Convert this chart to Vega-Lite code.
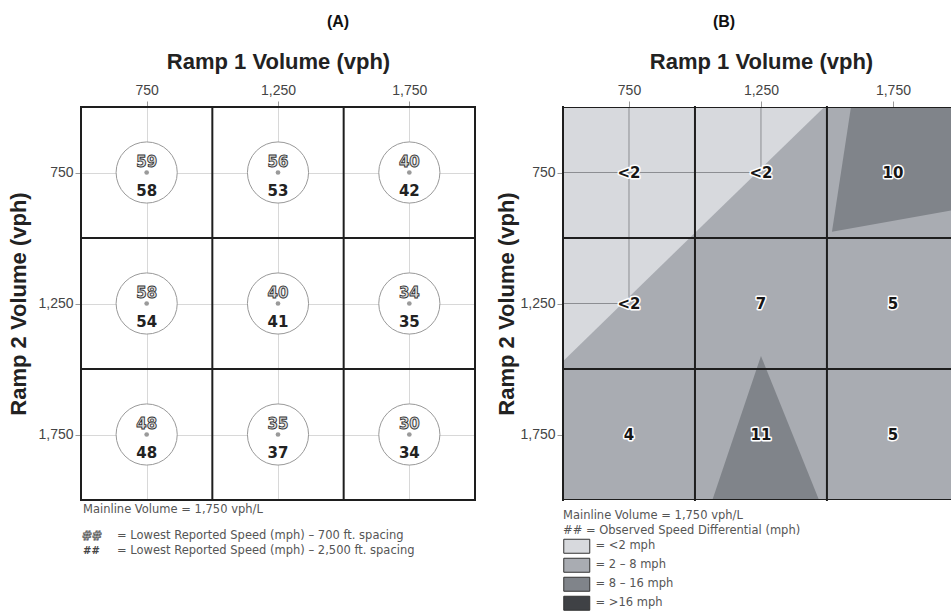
{
  "$schema": "https://vega.github.io/schema/vega-lite/v6.json",
  "padding": {"left": 7, "top": 14, "right": 0, "bottom": 0},
  "background": "white",
  "spacing": 18,
  "resolve": {"legend": {"fill": "independent"}, "scale": {"fill": "independent"}},
  "config": {
    "view": {"stroke": null},
    "axis": {
      "labelFont": "Liberation Sans", "labelFontSize": 14, "labelColor": "#444",
      "titleFont": "Liberation Sans", "titleFontSize": 22, "titleFontWeight": "bold", "titleColor": "#222",
      "tickColor": "#999", "tickSize": 6, "labelPadding": 2, "domain": false
    },
    "axisTop": {"labelPadding": 4},
    "title": {"font": "Liberation Sans", "fontSize": 16, "fontWeight": "bold", "color": "#111", "anchor": "middle", "frame": "group"}
  },
  "datasets": {
    "speeds": [
      {"r1": 750, "r2": 750, "s700": 59, "s2500": 58},
      {"r1": 1250, "r2": 750, "s700": 56, "s2500": 53},
      {"r1": 1750, "r2": 750, "s700": 40, "s2500": 42},
      {"r1": 750, "r2": 1250, "s700": 58, "s2500": 54},
      {"r1": 1250, "r2": 1250, "s700": 40, "s2500": 41},
      {"r1": 1750, "r2": 1250, "s700": 34, "s2500": 35},
      {"r1": 750, "r2": 1750, "s700": 48, "s2500": 48},
      {"r1": 1250, "r2": 1750, "s700": 35, "s2500": 37},
      {"r1": 1750, "r2": 1750, "s700": 30, "s2500": 34}
    ],
    "diffs": [
      {"r1": 750, "r2": 750, "d": "<2"},
      {"r1": 1250, "r2": 750, "d": "<2"},
      {"r1": 1750, "r2": 750, "d": "10"},
      {"r1": 750, "r2": 1250, "d": "<2"},
      {"r1": 1250, "r2": 1250, "d": "7"},
      {"r1": 1750, "r2": 1250, "d": "5"},
      {"r1": 750, "r2": 1750, "d": "4"},
      {"r1": 1250, "r2": 1750, "d": "11"},
      {"r1": 1750, "r2": 1750, "d": "5"}
    ],
    "lines": [{"v": 500}, {"v": 1000}, {"v": 1500}, {"v": 2000}]
  },
  "hconcat": [
    {
      "width": 394,
      "height": 393,
      "title": {"text": "(A)", "dx": 60, "offset": 20},
      "layer": [
        {
          "data": {"name": "speeds"},
          "mark": {"type": "point", "shape": "circle", "size": 3739, "filled": true, "fill": "white", "stroke": "#999", "strokeWidth": 1, "opacity": 1},
          "encoding": {
            "x": {"field": "r1", "type": "quantitative", "scale": {"domain": [500, 2000], "nice": false, "zero": false},
              "axis": {"orient": "top", "values": [750, 1250, 1750], "format": ",d", "title": "Ramp 1 Volume (vph)", "titlePadding": 10, "grid": true, "gridColor": "#d8d8d8"}},
            "y": {"field": "r2", "type": "quantitative", "scale": {"domain": [500, 2000], "nice": false, "zero": false, "reverse": true},
              "axis": {"orient": "left", "values": [750, 1250, 1750], "format": ",d", "title": "Ramp 2 Volume (vph)", "titlePadding": 7, "grid": true, "gridColor": "#d8d8d8"}}
          }
        },
        {
          "data": {"name": "speeds"},
          "mark": {"type": "point", "shape": "circle", "size": 22, "filled": true, "color": "#9a9a9a", "opacity": 1},
          "encoding": {
            "x": {"field": "r1", "type": "quantitative"},
            "y": {"field": "r2", "type": "quantitative"}
          }
        },
        {
          "data": {"name": "lines"},
          "mark": {"type": "rule", "color": "#1e1e1e", "strokeWidth": 2, "strokeCap": "square"},
          "encoding": {
            "x": {"field": "v", "type": "quantitative"},
            "y": {"datum": 500, "type": "quantitative"},
            "y2": {"datum": 2000}
          }
        },
        {
          "data": {"name": "lines"},
          "mark": {"type": "rule", "color": "#1e1e1e", "strokeWidth": 2, "strokeCap": "square"},
          "encoding": {
            "y": {"field": "v", "type": "quantitative"},
            "x": {"datum": 500, "type": "quantitative"},
            "x2": {"datum": 2000}
          }
        },
        {
          "data": {"name": "speeds"},
          "mark": {"type": "text", "font": "DejaVu Sans", "fontWeight": "bold", "fontSize": 15, "dy": -11, "fill": "#e0e0e0", "stroke": "#333", "strokeWidth": 0.9},
          "encoding": {
            "x": {"field": "r1", "type": "quantitative"},
            "y": {"field": "r2", "type": "quantitative"},
            "text": {"field": "s700"}
          }
        },
        {
          "data": {"name": "speeds"},
          "mark": {"type": "text", "font": "DejaVu Sans", "fontWeight": "bold", "fontSize": 15, "dy": 18, "fill": "#222"},
          "encoding": {
            "x": {"field": "r1", "type": "quantitative"},
            "y": {"field": "r2", "type": "quantitative"},
            "text": {"field": "s2500"}
          }
        },
        {
          "data": {"values": [{"note": "Mainline Volume = 1,750 vph/L"}]},
          "mark": {"type": "text", "font": "DejaVu Sans", "fontSize": 11.5, "align": "left", "dx": 2, "fill": "#555"},
          "encoding": {
            "x": {"datum": 500, "type": "quantitative"},
            "y": {"datum": 2038, "type": "quantitative"},
            "text": {"field": "note"}
          }
        },
        {
          "data": {"values": [{"note": "##"}]},
          "mark": {"type": "text", "font": "DejaVu Sans", "fontWeight": "bold", "fontSize": 12, "align": "left", "dx": 1, "fill": "#eee", "stroke": "#555", "strokeWidth": 0.8},
          "encoding": {
            "x": {"datum": 500, "type": "quantitative"},
            "y": {"datum": 2137, "type": "quantitative"},
            "text": {"field": "note"}
          }
        },
        {
          "data": {"values": [{"note": "= Lowest Reported Speed (mph) – 700 ft. spacing"}]},
          "mark": {"type": "text", "font": "DejaVu Sans", "fontSize": 11.5, "align": "left", "fill": "#555"},
          "encoding": {
            "x": {"datum": 637, "type": "quantitative"},
            "y": {"datum": 2137, "type": "quantitative"},
            "text": {"field": "note"}
          }
        },
        {
          "data": {"values": [{"note": "##"}]},
          "mark": {"type": "text", "font": "DejaVu Sans", "fontWeight": "bold", "fontSize": 10, "align": "left", "dx": 2, "fill": "#444"},
          "encoding": {
            "x": {"datum": 500, "type": "quantitative"},
            "y": {"datum": 2195, "type": "quantitative"},
            "text": {"field": "note"}
          }
        },
        {
          "data": {"values": [{"note": "= Lowest Reported Speed (mph) – 2,500 ft. spacing"}]},
          "mark": {"type": "text", "font": "DejaVu Sans", "fontSize": 11.5, "align": "left", "fill": "#555"},
          "encoding": {
            "x": {"datum": 637, "type": "quantitative"},
            "y": {"datum": 2195, "type": "quantitative"},
            "text": {"field": "note"}
          }
        }
      ]
    },
    {
      "width": 388,
      "height": 393,
      "title": {"text": "(B)", "dx": -33, "offset": 20},
      "layer": [
        {
          "data": {"values": [{"band": "2 – 8 mph"}]},
          "mark": {"type": "rect"},
          "encoding": {
            "x": {"datum": 500, "type": "quantitative", "scale": {"domain": [500, 1970], "nice": false, "zero": false},
              "axis": {"orient": "top", "values": [750, 1250, 1750], "format": ",d", "title": "Ramp 1 Volume (vph)", "titlePadding": 10, "titleX": 198, "grid": false}},
            "x2": {"datum": 1970},
            "y": {"datum": 500, "type": "quantitative", "scale": {"domain": [500, 2000], "nice": false, "zero": false, "reverse": true},
              "axis": {"orient": "left", "values": [750, 1250, 1750], "format": ",d", "title": "Ramp 2 Volume (vph)", "titlePadding": 1, "grid": false}},
            "y2": {"datum": 2000},
            "fill": {"field": "band", "type": "nominal",
              "scale": {"domain": ["<2 mph", "2 – 8 mph", "8 – 16 mph", ">16 mph"], "range": ["#d7d9dd", "#a9acb2", "#80848a", "#3f4145"]},
              "legend": {
                "orient": "none", "legendX": 0, "legendY": 403, "padding": 0,
                "title": ["Mainline Volume = 1,750 vph/L", "## = Observed Speed Differential (mph)"],
                "titleFont": "DejaVu Sans", "titleFontSize": 11.5, "titleFontWeight": "normal", "titleColor": "#555", "titleLineHeight": 15, "titlePadding": 4, "titleLimit": 500,
                "symbolType": "M-2.6,-1.4H2.6V1.4H-2.6Z", "symbolSize": 100, "symbolOffset": 8, "symbolStrokeColor": "#333", "symbolStrokeWidth": 1, "symbolOpacity": 1,
                "labelExpr": "'= ' + datum.label", "labelFont": "DejaVu Sans", "labelFontSize": 11.5, "labelColor": "#555", "labelOffset": 13,
                "rowPadding": 0
              }}
          }
        },
        {
          "data": {"values": [
            {"x": 500, "y": 500, "y2": 1470, "band": "<2 mph"},
            {"x": 1490, "y": 500, "y2": 500, "band": "<2 mph"}
          ]},
          "mark": {"type": "area", "opacity": 1},
          "encoding": {
            "x": {"field": "x", "type": "quantitative"},
            "y": {"field": "y", "type": "quantitative", "stack": null},
            "y2": {"field": "y2"},
            "fill": {"field": "band", "type": "nominal"}
          }
        },
        {
          "data": {"values": [
            {"y": 500, "x": 1591, "x2": 2000, "band": "8 – 16 mph"},
            {"y": 890, "x": 1532, "x2": 2000, "band": "8 – 16 mph"},
            {"y": 976, "x": 1519, "x2": 1519, "band": "8 – 16 mph"}
          ]},
          "mark": {"type": "area", "orient": "horizontal", "opacity": 1, "clip": true},
          "encoding": {
            "y": {"field": "y", "type": "quantitative"},
            "x": {"field": "x", "type": "quantitative", "stack": null},
            "x2": {"field": "x2"},
            "fill": {"field": "band", "type": "nominal"}
          }
        },
        {
          "data": {"values": [
            {"x": 1066, "y": 2000, "y2": 2000, "band": "8 – 16 mph"},
            {"x": 1250, "y": 1450, "y2": 2000, "band": "8 – 16 mph"},
            {"x": 1470, "y": 2000, "y2": 2000, "band": "8 – 16 mph"}
          ]},
          "mark": {"type": "area", "opacity": 1},
          "encoding": {
            "x": {"field": "x", "type": "quantitative"},
            "y": {"field": "y", "type": "quantitative", "stack": null},
            "y2": {"field": "y2"},
            "fill": {"field": "band", "type": "nominal"}
          }
        },
        {
          "data": {"values": [
            {"x": 750, "x2": 750, "y": 500, "y2": 1225},
            {"x": 1250, "x2": 1250, "y": 500, "y2": 735},
            {"x": 500, "x2": 1235, "y": 750, "y2": 750},
            {"x": 500, "x2": 725, "y": 1250, "y2": 1250}
          ]},
          "mark": {"type": "rule", "color": "#8c8e92", "strokeWidth": 1},
          "encoding": {
            "x": {"field": "x", "type": "quantitative"},
            "x2": {"field": "x2"},
            "y": {"field": "y", "type": "quantitative"},
            "y2": {"field": "y2"}
          }
        },
        {
          "data": {"name": "lines"},
          "transform": [{"filter": "datum.v < 1970"}],
          "mark": {"type": "rule", "color": "#1e1e1e", "strokeWidth": 2, "strokeCap": "square"},
          "encoding": {
            "x": {"field": "v", "type": "quantitative"},
            "y": {"datum": 500, "type": "quantitative"},
            "y2": {"datum": 2000}
          }
        },
        {
          "data": {"name": "lines"},
          "mark": {"type": "rule", "color": "#1e1e1e", "strokeWidth": 2, "strokeCap": "square", "clip": true},
          "encoding": {
            "y": {"field": "v", "type": "quantitative"},
            "x": {"datum": 500, "type": "quantitative"},
            "x2": {"datum": 2000}
          }
        },
        {
          "data": {"name": "diffs"},
          "mark": {"type": "text", "font": "DejaVu Sans", "fontWeight": "bold", "fontSize": 15, "fill": "white", "stroke": "white", "strokeWidth": 3, "strokeJoin": "round"},
          "encoding": {
            "x": {"field": "r1", "type": "quantitative"},
            "y": {"field": "r2", "type": "quantitative"},
            "text": {"field": "d"}
          }
        },
        {
          "data": {"name": "diffs"},
          "mark": {"type": "text", "font": "DejaVu Sans", "fontWeight": "bold", "fontSize": 15, "fill": "#151515"},
          "encoding": {
            "x": {"field": "r1", "type": "quantitative"},
            "y": {"field": "r2", "type": "quantitative"},
            "text": {"field": "d"}
          }
        }
      ]
    }
  ]
}
